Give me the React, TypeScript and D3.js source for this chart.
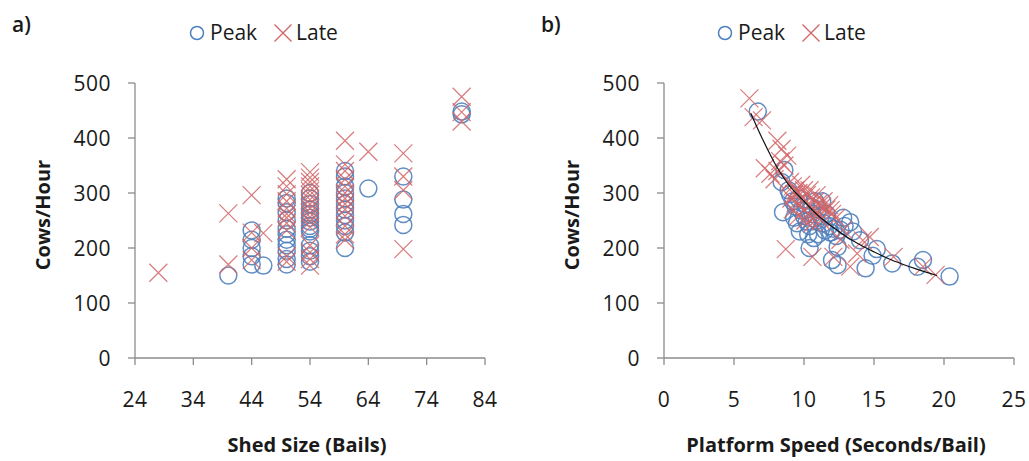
import React from "react";
import * as d3 from "d3";

// panel a) shed size (bails) vs cows/hour
const shedPeak: [number, number][] = [
  [40, 150],
  [44, 232], [44, 215], [44, 200], [44, 185], [44, 170],
  [46, 168],
  [50, 290], [50, 282], [50, 265], [50, 250], [50, 235], [50, 225], [50, 215], [50, 205], [50, 195], [50, 180], [50, 170],
  [54, 300], [54, 290], [54, 280], [54, 270], [54, 262], [54, 255], [54, 248], [54, 240], [54, 235], [54, 230], [54, 205], [54, 195], [54, 185], [54, 175],
  [60, 340], [60, 330], [60, 312], [60, 300], [60, 290], [60, 280], [60, 270], [60, 260], [60, 250], [60, 240], [60, 228], [60, 200],
  [64, 308],
  [70, 330], [70, 288], [70, 262], [70, 242],
  [80, 448], [80, 443],
];

const shedLate: [number, number][] = [
  [28, 155],
  [40, 263], [40, 170],
  [44, 296], [44, 228], [44, 200], [44, 178],
  [46, 227],
  [50, 325], [50, 312], [50, 298], [50, 285], [50, 272], [50, 262], [50, 255], [50, 245], [50, 232], [50, 185], [50, 175],
  [54, 338], [54, 328], [54, 320], [54, 312], [54, 304], [54, 296], [54, 288], [54, 280], [54, 272], [54, 264], [54, 256], [54, 248], [54, 238], [54, 205], [54, 192], [54, 180], [54, 168],
  [60, 395], [60, 352], [60, 340], [60, 325], [60, 312], [60, 300], [60, 290], [60, 280], [60, 270], [60, 258], [60, 240], [60, 225], [60, 215],
  [64, 375],
  [70, 372], [70, 330], [70, 305], [70, 198],
  [80, 475], [80, 447], [80, 430],
];

// panel b) platform speed (seconds/bail) vs cows/hour
const speedPeak: [number, number][] = [
  [6.7, 448], [8.6, 342], [8.4, 320], [8.5, 265], [8.9, 305], [9.0, 298], [9.2, 285], [9.4, 275],
  [9.6, 290], [9.3, 255], [9.5, 245], [9.8, 268], [10.0, 258], [10.2, 248], [10.4, 240], [10.1, 280],
  [10.5, 275], [10.8, 285], [10.6, 262], [10.9, 250], [11.0, 270], [11.2, 258], [11.4, 245], [11.3, 285],
  [11.6, 262], [11.8, 240], [12.1, 235], [11.5, 232], [10.4, 200], [10.7, 218], [11.0, 225], [11.9, 228],
  [12.0, 178], [12.4, 169], [12.4, 202], [12.8, 255], [13.3, 247], [12.6, 233], [12.9, 240], [13.5, 230],
  [14.0, 214], [14.4, 163], [15.2, 198], [14.9, 186], [16.3, 172], [18.1, 166], [18.5, 178], [20.4, 148],
  [9.7, 230], [10.3, 225], [12.3, 222],
];

const speedLate: [number, number][] = [
  [6.1, 472], [6.4, 438], [7.0, 432], [7.2, 345], [7.6, 335], [7.9, 325], [8.1, 395], [8.4, 380],
  [8.8, 368], [8.3, 358], [8.6, 350], [8.1, 340], [8.7, 198], [9.0, 320], [9.2, 312], [9.4, 305],
  [9.6, 300], [9.8, 315], [10.0, 305], [10.2, 296], [10.5, 292], [10.8, 285], [11.0, 280], [11.3, 275],
  [11.6, 270], [12.0, 262], [9.1, 290], [9.4, 282], [9.7, 278], [10.0, 270], [10.3, 262], [10.6, 255],
  [9.2, 270], [9.6, 258], [10.1, 250], [10.6, 245], [11.2, 250], [10.4, 305], [10.9, 296], [11.4, 285],
  [11.8, 278], [12.3, 255], [9.3, 298], [10.7, 272], [11.0, 262], [10.6, 184], [11.9, 269], [12.1, 184],
  [12.6, 215], [12.8, 233], [13.3, 166], [13.8, 190], [14.2, 214], [14.7, 220], [16.4, 184], [18.5, 166],
  [19.4, 151],
];

// trend line read off panel b)
const speedTrend: [number, number][] = [
  [6.2, 445], [7, 400], [8, 350], [9, 312], [10, 285], [11, 259], [12, 239], [13, 221],
  [14, 206], [15, 193], [16, 181], [17, 171], [18, 162], [19.5, 150],
];

const yTicks = [0, 100, 200, 300, 400, 500];
const shedTicks = [24, 34, 44, 54, 64, 74, 84];
const speedTicks = [0, 5, 10, 15, 20, 25];

const FONT = "'Open Sans', 'Noto Sans', sans-serif";
const BLUE = "#4F81BD";
const RED = "#D26466";
const AXIS = "#8c8c8c";
const TEXT = "#1a1a1a";

const top = 83;
const bottom = 358;

function Cross({ x, y, s, ...rest }: any) {
  return (
    <path
      d={`M${x - s},${y - s}L${x + s},${y + s}M${x - s},${y + s}L${x + s},${y - s}`}
      fill="none"
      {...rest}
    />
  );
}

function Panel({ left, right, xTicks, peak, late, trend, label, xTitle, legendX }: any) {
  const x = d3.scaleLinear().domain([xTicks[0], xTicks[xTicks.length - 1]]).range([left, right]);
  const y = d3.scaleLinear().domain([0, 500]).range([bottom, top]);
  const line = d3
    .line<[number, number]>()
    .x((d) => x(d[0]))
    .y((d) => y(d[1]))
    .curve(d3.curveCatmullRom);

  return (
    <g fontFamily={FONT} fill={TEXT}>
      <text x={left - 123} y={32} fontSize={21} fontWeight={600}>
        {label}
      </text>

      {/* legend */}
      <circle cx={legendX} cy={33} r={6.5} fill="none" stroke={BLUE} strokeWidth={1.5} />
      <text x={legendX + 13} y={40} fontSize={21}>Peak</text>
      <Cross x={legendX + 86} y={33} s={8.5} stroke={RED} strokeWidth={1.3} />
      <text x={legendX + 99} y={40} fontSize={21}>Late</text>

      {/* axes */}
      <line x1={left} x2={left} y1={top} y2={bottom} stroke={AXIS} strokeWidth={1.3} />
      <line x1={left} x2={right} y1={bottom} y2={bottom} stroke={AXIS} strokeWidth={1.3} />
      {yTicks.map((t) => (
        <g key={"y" + t}>
          <line x1={left - 7} x2={left} y1={y(t)} y2={y(t)} stroke={AXIS} strokeWidth={1.3} />
          <text x={left - 24} y={y(t)} dy="0.36em" textAnchor="end" fontSize={21} letterSpacing={0.5}>
            {t}
          </text>
        </g>
      ))}
      {xTicks.map((t: number) => (
        <g key={"x" + t}>
          <line x1={x(t)} x2={x(t)} y1={bottom} y2={bottom + 7} stroke={AXIS} strokeWidth={1.3} />
          <text x={x(t)} y={407} textAnchor="middle" fontSize={21} letterSpacing={0.5}>
            {t}
          </text>
        </g>
      ))}

      <text
        transform={`translate(${left - 85},${215}) rotate(-90)`}
        textAnchor="middle"
        fontSize={20}
        fontWeight="bold"
      >
        Cows/Hour
      </text>
      <text x={(left + right) / 2 - 3} y={452} textAnchor="middle" fontSize={20} fontWeight="bold">
        {xTitle}
      </text>

      {/* points */}
      {peak.map((d: [number, number], i: number) => (
        <circle key={"p" + i} cx={x(d[0])} cy={y(d[1])} r={8.5} fill="none" stroke={BLUE} strokeWidth={1.5} strokeOpacity={0.9} />
      ))}
      {late.map((d: [number, number], i: number) => (
        <Cross key={"l" + i} x={x(d[0])} y={y(d[1])} s={9} stroke={RED} strokeWidth={1.2} strokeOpacity={0.85} />
      ))}
      {trend && <path d={line(trend) || ""} fill="none" stroke="#111" strokeWidth={1.2} />}
    </g>
  );
}

export default function App() {
  return (
    <svg
      width={1029}
      height={461}
      style={{ position: "absolute", left: 0, top: 0, background: "#fff" }}
    >
      <rect width={1029} height={461} fill="#fff" />
      <Panel
        left={135}
        right={485}
        xTicks={shedTicks}
        peak={shedPeak}
        late={shedLate}
        label="a)"
        xTitle="Shed Size (Bails)"
        legendX={197}
      />
      <Panel
        left={664}
        right={1014}
        xTicks={speedTicks}
        peak={speedPeak}
        late={speedLate}
        trend={speedTrend}
        label="b)"
        xTitle="Platform Speed (Seconds/Bail)"
        legendX={725}
      />
    </svg>
  );
}
